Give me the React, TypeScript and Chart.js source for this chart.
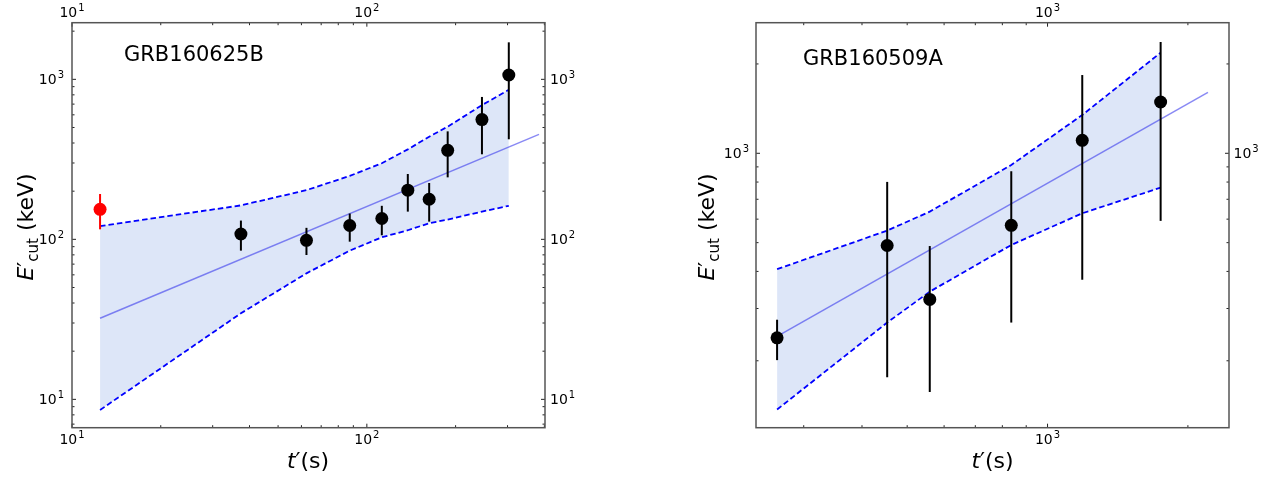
import React, { useEffect, useRef } from 'react';
import { Chart, registerables } from 'chart.js';

Chart.register(...registerables);

// ---------- Panel A: GRB160625B ----------
const tA = [37.4, 62.4, 87.5, 112.4, 137.7, 162.7, 188, 245.7, 303];
const eA = [108, 98.6, 122, 135, 203, 178, 360, 560, 1064];
const eA_lo = [85, 79.8, 96.7, 106, 149, 129, 244, 340, 422];
const eA_hi = [131, 118, 145, 162, 256, 225, 473, 776, 1703];
const tA_red = [12.45];
const eA_red = [154];
const eA_red_lo = [115.5];
const eA_red_hi = [192];
const fitA_t = [12.45, 383.6];
const fitA_e = [32.1, 453];
const bandA_t = [12.45, 37.4, 62.4, 87.5, 112.4, 137.7, 162.7, 188, 245.7, 303];
const bandA_hi = [121, 163, 203, 249, 299, 365, 438, 506, 690, 861];
const bandA_lo = [8.58, 34.5, 61.3, 85, 103, 114, 126, 133, 149, 162];
const xMajorA = [10, 100];
const xMinorA = [20, 30, 40, 50, 60, 70, 80, 90, 200, 300, 400];
const yMajorA = [10, 100, 1000];
const yMinorA = [7, 8, 9, 20, 30, 40, 50, 60, 70, 80, 90, 200, 300, 400, 500, 600, 700, 800, 900, 2000];

// ---------- Panel B: GRB160509A ----------
const tB = [263, 453, 559, 836, 1187, 1748];
const eB = [239, 489, 322, 572, 1106, 1489];
const eB_lo = [201, 176, 157, 269, 375, 592];
const eB_hi = [275, 801, 487, 870, 1835, 2371];
const fitB_t = [263, 2208];
const fitB_e = [241.5, 1605];
const bandB_t = [263, 453, 559, 836, 1187, 1748];
const bandB_hi = [407, 549, 636, 913, 1346, 2182];
const bandB_lo = [137, 269, 342, 491, 628, 766];
const xMajorB = [1000];
const xMinorB = [300, 400, 500, 600, 700, 800, 900, 2000];
const yMajorB = [1000];
const yMinorB = [200, 300, 400, 500, 600, 700, 800, 900, 2000];

const FONT = '"DejaVu Sans", "Liberation Sans", sans-serif';
const FILL = 'rgb(221,230,248)';
const DASH = '#0000ff';
const FIT = 'rgba(40,40,235,0.55)';

const pts = (xs: number[], ys: number[]) => xs.map((x, i) => ({ x, y: ys[i] }));

function drawPow(ctx: CanvasRenderingContext2D, exp: string, x: number, y: number, align: string) {
  const big = `14px ${FONT}`;
  const small = `10px ${FONT}`;
  ctx.font = big;
  const w1 = ctx.measureText('10').width;
  ctx.font = small;
  const w2 = ctx.measureText(exp).width;
  const total = w1 + w2 + 1;
  let x0 = x;
  if (align === 'center') x0 = x - total / 2;
  else if (align === 'right') x0 = x - total;
  ctx.textAlign = 'left';
  ctx.textBaseline = 'alphabetic';
  ctx.font = big;
  ctx.fillText('10', x0, y);
  ctx.font = small;
  ctx.fillText(exp, x0 + w1 + 1, y - 6);
}

function drawXTitle(ctx: CanvasRenderingContext2D, cx: number, by: number) {
  const fi = `italic 22px ${FONT}`;
  const fn = `22px ${FONT}`;
  ctx.font = fi;
  const wt = ctx.measureText('t').width;
  ctx.font = fn;
  const wp = ctx.measureText('\u2032').width;
  const wr = ctx.measureText('(s)').width;
  const x0 = cx - (wt + wp + wr) / 2;
  ctx.textAlign = 'left';
  ctx.textBaseline = 'alphabetic';
  ctx.font = fi;
  ctx.fillText('t', x0, by);
  ctx.font = fn;
  ctx.fillText('\u2032', x0 + wt, by);
  ctx.fillText('(s)', x0 + wt + wp, by);
}

function drawYTitle(ctx: CanvasRenderingContext2D, bx: number, cy: number) {
  const fi = `italic 22px ${FONT}`;
  const fn = `22px ${FONT}`;
  const fs = `15px ${FONT}`;
  ctx.save();
  ctx.translate(bx, cy);
  ctx.rotate(-Math.PI / 2);
  ctx.font = fi;
  const wE = ctx.measureText('E').width;
  ctx.font = fn;
  const wp = ctx.measureText('\u2032').width;
  const wk = ctx.measureText(' (keV)').width;
  ctx.font = fs;
  const wc = ctx.measureText('cut').width;
  const total = wE + wp + wc + wk;
  let x = -total / 2;
  ctx.textAlign = 'left';
  ctx.textBaseline = 'alphabetic';
  ctx.font = fi;
  ctx.fillText('E', x, 0);
  x += wE;
  ctx.font = fn;
  ctx.fillText('\u2032', x, 0);
  x += wp;
  ctx.font = fs;
  ctx.fillText('cut', x, 5);
  x += wc;
  ctx.font = fn;
  ctx.fillText(' (keV)', x, 0);
  ctx.restore();
}

type PanelCfg = {
  width: number;
  left: number;
  padL: number;
  padR: number;
  xMin: number;
  xMax: number;
  yMin: number;
  yMax: number;
  xMajor: number[];
  xMinor: number[];
  yMajor: number[];
  yMinor: number[];
  title: string;
  titleX: number;
  titleY: number;
  xTitleX: number;
  yTitleX: number;
  labPadL: number;
  labPadR: number;
  red?: { t: number[]; e: number[]; lo: number[]; hi: number[] };
  t: number[];
  e: number[];
  lo: number[];
  hi: number[];
  fitT: number[];
  fitE: number[];
  bandT: number[];
  bandHi: number[];
  bandLo: number[];
};

const TOP = 22.7;
const BOTTOM = 427.7;
const H = 478;

function makeChart(canvas: HTMLCanvasElement, c: PanelCfg) {
  const redData = c.red ? pts(c.red.t, c.red.e) : [];
  const errSets = [
    { index: 0, lo: c.red ? c.red.lo : [], hi: c.red ? c.red.hi : [], color: '#ff0000' },
    { index: 1, lo: c.lo, hi: c.hi, color: '#000000' },
  ];

  const errPlugin = {
    id: 'errbars',
    beforeDatasetDraw(chart: any, args: any) {
      const s = errSets.find((q) => q.index === args.index);
      if (!s) return;
      const ctx = chart.ctx;
      const xs = chart.scales.x;
      const ys = chart.scales.y;
      const data = chart.data.datasets[args.index].data as { x: number; y: number }[];
      ctx.save();
      ctx.strokeStyle = s.color;
      ctx.lineWidth = 2;
      data.forEach((p, i) => {
        const px = xs.getPixelForValue(p.x);
        ctx.beginPath();
        ctx.moveTo(px, ys.getPixelForValue(s.lo[i]));
        ctx.lineTo(px, ys.getPixelForValue(s.hi[i]));
        ctx.stroke();
      });
      ctx.restore();
    },
  };

  const framePlugin = {
    id: 'frame',
    afterDraw(chart: any) {
      const ctx: CanvasRenderingContext2D = chart.ctx;
      const a = chart.chartArea;
      const xs = chart.scales.x;
      const ys = chart.scales.y;
      ctx.save();
      ctx.strokeStyle = '#222';
      ctx.lineWidth = 1;
      const seg = (x1: number, y1: number, x2: number, y2: number) => {
        ctx.beginPath();
        ctx.moveTo(x1, y1);
        ctx.lineTo(x2, y2);
        ctx.stroke();
      };
      const xt = (v: number, len: number) => {
        const px = xs.getPixelForValue(v);
        seg(px, a.bottom, px, a.bottom - len);
        seg(px, a.top, px, a.top + len);
      };
      const yt = (v: number, len: number) => {
        const py = ys.getPixelForValue(v);
        seg(a.left, py, a.left + len, py);
        seg(a.right, py, a.right - len, py);
      };
      c.xMajor.forEach((v) => xt(v, 4));
      c.xMinor.forEach((v) => xt(v, 2.5));
      c.yMajor.forEach((v) => yt(v, 4));
      c.yMinor.forEach((v) => yt(v, 2.5));
      ctx.strokeStyle = '#555';
      ctx.lineWidth = 1.5;
      ctx.strokeRect(a.left, a.top, a.right - a.left, a.bottom - a.top);

      ctx.fillStyle = '#000';
      c.xMajor.forEach((v) => {
        const px = xs.getPixelForValue(v);
        const ex = String(Math.round(Math.log10(v)));
        drawPow(ctx, ex, px, a.bottom + 16.5, 'center');
        drawPow(ctx, ex, px, a.top - 6, 'center');
      });
      c.yMajor.forEach((v) => {
        const py = ys.getPixelForValue(v);
        const ex = String(Math.round(Math.log10(v)));
        drawPow(ctx, ex, a.left - c.labPadL, py + 5, 'right');
        drawPow(ctx, ex, a.right + c.labPadR, py + 5, 'left');
      });

      ctx.font = `21px ${FONT}`;
      ctx.textAlign = 'left';
      ctx.textBaseline = 'alphabetic';
      ctx.fillText(c.title, c.titleX, c.titleY);

      drawXTitle(ctx, c.xTitleX, 468);
      drawYTitle(ctx, c.yTitleX, 227);
      ctx.restore();
    },
  };

  const axis = (pos: string, min: number, max: number, fit: (s: any) => void) => ({
    type: 'logarithmic',
    position: pos,
    min,
    max,
    grid: { display: false, drawTicks: false },
    border: { display: false },
    ticks: { display: false },
    afterFit: fit,
  });

  return new Chart(canvas, {
    type: 'line',
    data: {
      datasets: [
        {
          data: redData,
          showLine: false,
          pointRadius: 6.5,
          pointHoverRadius: 6.5,
          pointBackgroundColor: '#ff0000',
          pointBorderColor: '#ff0000',
          pointBorderWidth: 0,
        },
        {
          data: pts(c.t, c.e),
          showLine: false,
          pointRadius: 6.5,
          pointHoverRadius: 6.5,
          pointBackgroundColor: '#000',
          pointBorderColor: '#000',
          pointBorderWidth: 0,
        },
        {
          data: pts(c.fitT, c.fitE),
          borderColor: FIT,
          borderWidth: 1.5,
          pointRadius: 0,
          fill: false,
        },
        {
          data: pts(c.bandT, c.bandHi),
          borderColor: DASH,
          borderWidth: 1.8,
          borderDash: [5.5, 3],
          pointRadius: 0,
          fill: false,
        },
        {
          data: pts(c.bandT, c.bandLo),
          borderColor: DASH,
          borderWidth: 1.8,
          borderDash: [5.5, 3],
          pointRadius: 0,
          backgroundColor: FILL,
          fill: '-1',
        },
      ],
    } as any,
    options: {
      animation: false,
      responsive: false,
      devicePixelRatio: 1,
      layout: { padding: 0, autoPadding: false },
      events: [],
      plugins: {
        legend: { display: false },
        tooltip: { enabled: false },
        filler: { drawTime: 'beforeDatasetsDraw' },
      },
      scales: {
        x: axis('bottom', c.xMin, c.xMax, (s) => { s.height = H - BOTTOM; }),
        x2: axis('top', c.xMin, c.xMax, (s) => { s.height = TOP; }),
        y: axis('left', c.yMin, c.yMax, (s) => { s.width = c.padL; }),
        y2: axis('right', c.yMin, c.yMax, (s) => { s.width = c.padR; }),
      },
    } as any,
    plugins: [errPlugin, framePlugin],
  });
}

const panelA: PanelCfg = {
  width: 620,
  left: 0,
  padL: 72,
  padR: 75,
  xMin: 10,
  xMax: 402,
  yMin: 6.65,
  yMax: 2259,
  xMajor: xMajorA,
  xMinor: xMinorA,
  yMajor: yMajorA,
  yMinor: yMinorA,
  title: 'GRB160625B',
  titleX: 124,
  titleY: 60.7,
  xTitleX: 308,
  yTitleX: 33,
  labPadL: 8,
  labPadR: 5,
  red: { t: tA_red, e: eA_red, lo: eA_red_lo, hi: eA_red_hi },
  t: tA,
  e: eA,
  lo: eA_lo,
  hi: eA_hi,
  fitT: fitA_t,
  fitE: fitA_e,
  bandT: bandA_t,
  bandHi: bandA_hi,
  bandLo: bandA_lo,
};

const panelB: PanelCfg = {
  width: 631,
  left: 640,
  padL: 116,
  padR: 42,
  xMin: 237,
  xMax: 2450,
  yMin: 119,
  yMax: 2754,
  xMajor: xMajorB,
  xMinor: xMinorB,
  yMajor: yMajorB,
  yMinor: yMinorB,
  title: 'GRB160509A',
  titleX: 803 - 640,
  titleY: 64.7,
  xTitleX: 992.5 - 640,
  yTitleX: 714 - 640,
  labPadL: 7,
  labPadR: 4.5,
  t: tB,
  e: eB,
  lo: eB_lo,
  hi: eB_hi,
  fitT: fitB_t,
  fitE: fitB_e,
  bandT: bandB_t,
  bandHi: bandB_hi,
  bandLo: bandB_lo,
};

function Panel({ cfg }: { cfg: PanelCfg }) {
  const ref = useRef<HTMLCanvasElement | null>(null);
  useEffect(() => {
    if (!ref.current) return;
    const chart = makeChart(ref.current, cfg);
    return () => chart.destroy();
  }, [cfg]);
  return (
    <canvas
      ref={ref}
      width={cfg.width}
      height={H}
      style={{ position: 'absolute', left: cfg.left, top: 0, width: cfg.width, height: H }}
    />
  );
}

export default function App() {
  return (
    <div style={{ position: 'absolute', left: 0, top: 0, width: 1271, height: 478, background: '#fff', overflow: 'hidden' }}>
      <Panel cfg={panelA} />
      <Panel cfg={panelB} />
    </div>
  );
}
